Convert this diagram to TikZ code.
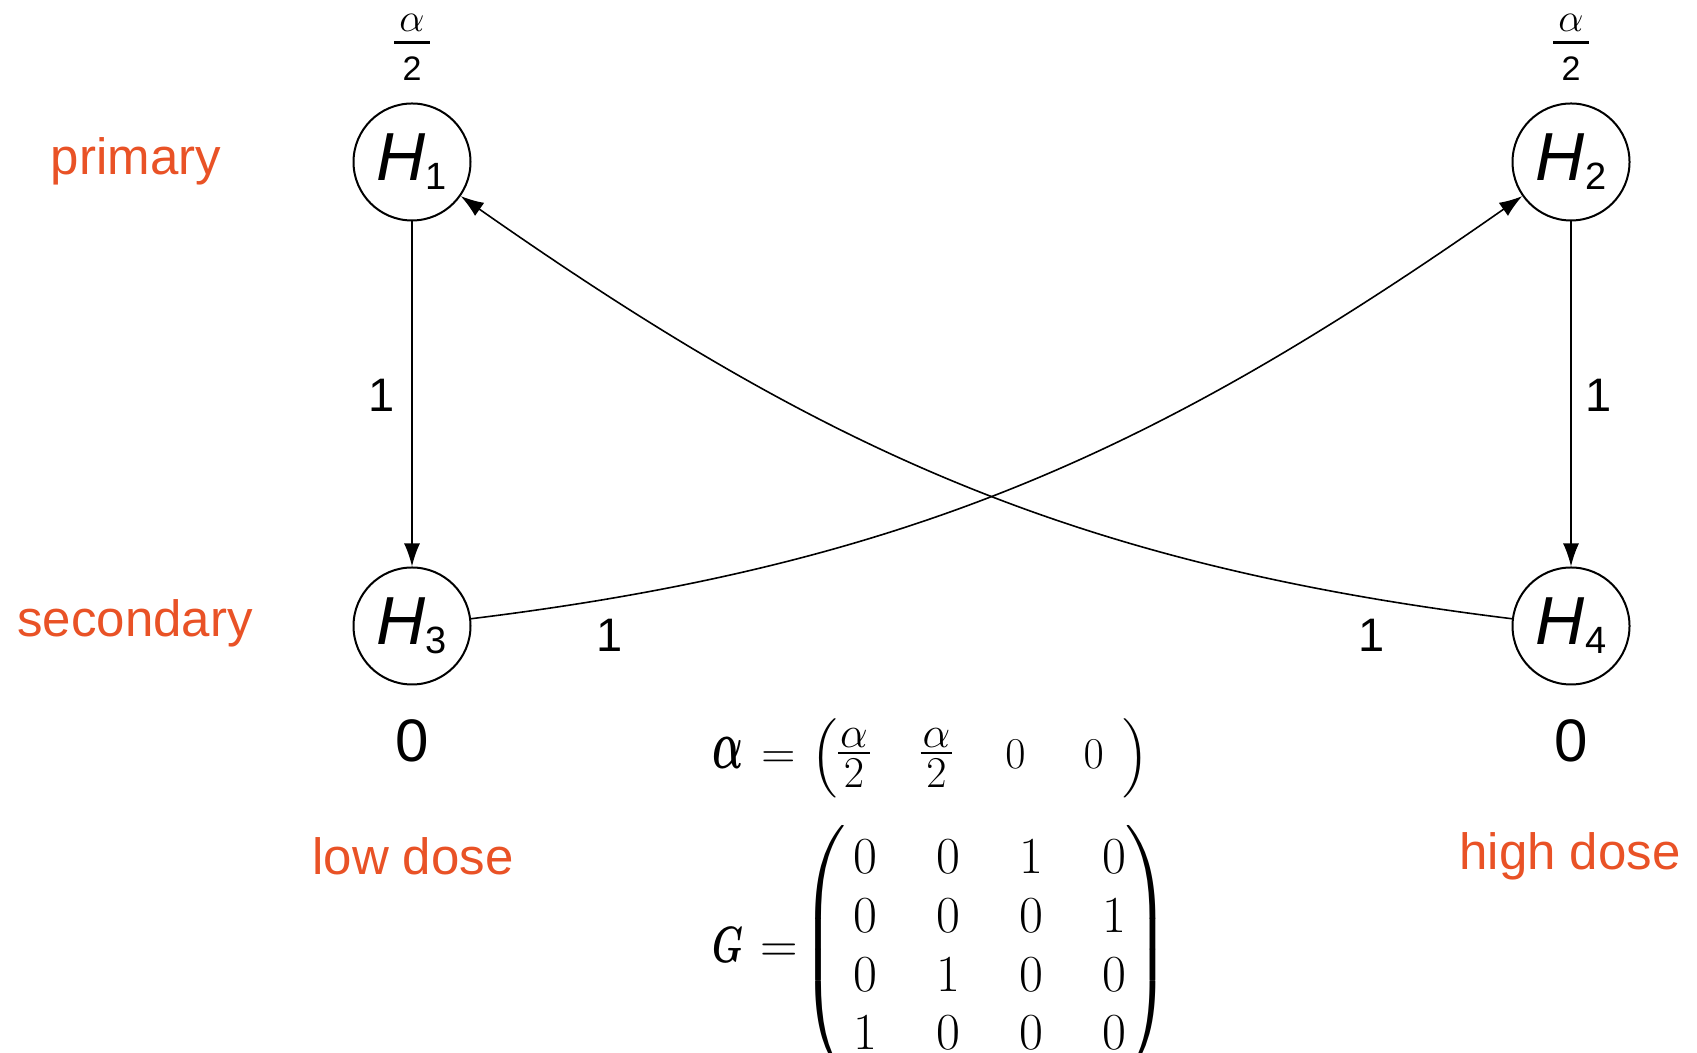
\RequirePackage{fix-cm}
\documentclass[tikz,border=0pt]{standalone}
\usepackage{amsmath,amssymb}
\usepackage{graphicx}
\usepackage[no-math]{fontspec}
\setmainfont{Liberation Sans}
\usetikzlibrary{arrows.meta}
\definecolor{lblorange}{RGB}{233,82,38}
\newcommand{\hlab}[1]{{\itshape H}\raisebox{-4.5pt}{\fontsize{19pt}{19pt}\selectfont #1}}
\newcommand{\vfrac}{\vcenter{\offinterlineskip\halign{\hskip1pt\hfil##\hfil\hskip1pt\cr
  $\alpha$\cr\noalign{\kern2.5pt\hrule height 1pt\kern2.5pt}$2$\cr}}}
\newcommand{\wfrac}{\ensuremath{\vcenter{\offinterlineskip\halign{\hskip2.5pt\hfil##\hfil\hskip2.5pt\cr
  $\alpha$\cr\noalign{\kern4.5pt\hrule height 1.3pt\kern6.5pt}\scalebox{0.85}{2}\cr}}}}
\begin{document}
\begin{tikzpicture}[x=0.5pt,y=0.5pt,
  hyp/.style={circle, draw=black, line width=1pt, minimum size=58.5pt, inner sep=0pt,
    font=\fontsize{34pt}{34pt}\selectfont},
  edge/.style={line width=0.8pt, -{Latex[length=11.5pt,width=8pt]}},
  side/.style={text=lblorange, font=\fontsize{25.5pt}{25.5pt}\selectfont, inner sep=0pt, anchor=base},
  wlbl/.style={font=\fontsize{23.5pt}{23.5pt}\selectfont, inner sep=0pt},
  zlbl/.style={font=\fontsize{30pt}{30pt}\selectfont, inner sep=0pt, anchor=base},
  flbl/.style={font=\fontsize{20pt}{20pt}\selectfont, inner sep=0pt}
]
\useasboundingbox (0,0) rectangle (1697,1053);
\clip (0,0) rectangle (1697,1053);
\fill[white] (0,0) rectangle (1697,1053);

% hypotheses
\node[hyp] (H1) at (412,891) {\hlab{1}};
\node[hyp] (H2) at (1571,891) {\hlab{2}};
\node[hyp] (H3) at (412,427) {\hlab{3}};
\node[hyp] (H4) at (1571,427) {\hlab{4}};

% weights
\node[flbl] (w1) at (412,1005.5) {\wfrac};
\node[flbl] (w2) at (1571,1005.5) {\wfrac};
\node[zlbl] (w3) at (412,291) {0};
\node[zlbl] (w4) at (1571,291) {0};

% side labels
\node[side] (prim) at (136,878) {primary};
\node[side] (sec) at (135,416) {secondary};
\node[side] (low) at (413,178) {low dose};
\node[side] (high) at (1570,183) {high dose};

% edges
\draw[edge] (H1) -- (H3);
\draw[edge] (H2) -- (H4);
\draw[edge] (H3) to[out=7,in=215] (H2);
\draw[edge] (H4) to[out=173,in=-35] (H1);

% edge labels
\node[wlbl] (e13) at (382,658) {1};
\node[wlbl] (e24) at (1599,658) {1};
\node[wlbl] (e32) at (610,418) {1};
\node[wlbl] (e41) at (1372,418) {1};

% equations
\node[anchor=west, inner sep=0pt, font=\fontsize{22pt}{22pt}\selectfont] (aeq) at (712,295)
  {$\resizebox{15.5pt}{15.5pt}{$\boldsymbol{\alpha}$}\hspace{9pt}\resizebox{17pt}{!}{$=$}\hspace{4.5pt}\left(\vfrac\hspace{25.5pt}\vfrac\hspace{26.5pt}0\hspace{29pt}0\hspace{9.5pt}\right)$};
\node[anchor=west, inner sep=0pt, font=\fontsize{26pt}{29.3pt}\selectfont] (geq) at (712,103)
  {$\resizebox{15.5pt}{17.5pt}{$\boldsymbol{G}$}\hspace{8.5pt}{=}\hspace{-3pt}\left(\begin{array}{@{\hspace{3.5pt}}c@{\hspace{29.7pt}}c@{\hspace{29.7pt}}c@{\hspace{29.7pt}}c@{\hspace{-0.5pt}}}
  0&0&1&0\\ 0&0&0&1\\ 0&1&0&0\\ 1&0&0&0
  \end{array}\right)$};
\end{tikzpicture}
\end{document}
